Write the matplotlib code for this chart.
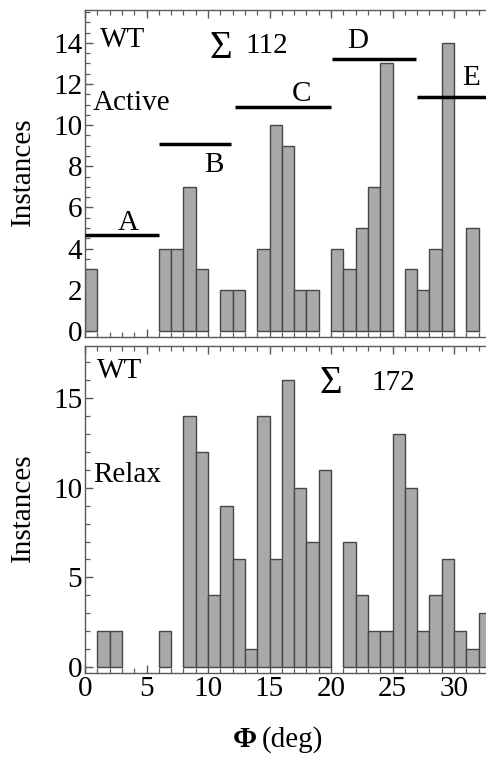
import matplotlib
matplotlib.use("Agg")
import matplotlib.pyplot as plt
from matplotlib.ticker import MultipleLocator

# ---------------- data ----------------
active_bin_left = [0, 6, 7, 8, 9, 11, 12, 14, 15, 16, 17, 18, 20, 21, 22, 23, 24, 26, 27, 28, 29, 31]
active_counts   = [3, 4, 4, 7, 3, 2, 2, 4, 10, 9, 2, 2, 4, 3, 5, 7, 13, 3, 2, 4, 14, 5]

relax_bin_left = [1, 2, 6, 8, 9, 10, 11, 12, 13, 14, 15, 16, 17, 18, 19,
                  21, 22, 23, 24, 25, 26, 27, 28, 29, 30, 31, 32]
relax_counts   = [2, 2, 2, 14, 12, 4, 9, 6, 1, 14, 6, 16, 10, 7, 11,
                  7, 4, 2, 2, 13, 10, 2, 4, 6, 2, 1, 3]

region_labels = ["A", "B", "C", "D", "E"]
region_start  = [0.0, 6.0, 12.2, 20.1, 27.0]
region_end    = [6.0, 11.9, 20.0, 26.9, 34.0]
region_level  = [4.67, 9.1, 10.87, 13.24, 11.37]
region_label_x = [3.5, 10.5, 17.6, 22.2, 31.35]
region_label_y = [4.9, 7.7, 11.16, 13.76, 11.97]

x_ticks = [0, 5, 10, 15, 20, 25, 30]
bin_width = 1.0

# ---------------- style ----------------
SERIF = ["Liberation Serif", "DejaVu Serif"]
plt.rcParams["font.family"] = SERIF
FS = 21
BAR_FC = "#a9a9a9"
BAR_EC = "#474747"
SPINE_C = "#5a5a5a"

W, H = 486, 758
fig = plt.figure(figsize=(W / 100, H / 100), dpi=100)

left = 85 / W
width = (W - 85) / W + 0.01
ax1 = fig.add_axes([left, (H - 337) / H, width, 327 / H])
ax2 = fig.add_axes([left, (H - 673) / H, width, 327 / H])

xmax = 32.6 + 0.01 * W / 12.33

for ax in (ax1, ax2):
    ax.set_xlim(0, xmax)
    ax.spines["right"].set_visible(False)
    for s in ("left", "bottom", "top"):
        ax.spines[s].set_color(SPINE_C)
        ax.spines[s].set_linewidth(1.0)
    ax.xaxis.set_major_locator(MultipleLocator(5))
    ax.xaxis.set_minor_locator(MultipleLocator(1))
    ax.tick_params(axis="both", which="both", direction="in", color=SPINE_C,
                   top=True, right=False, labelsize=FS)
    ax.tick_params(axis="both", which="major", length=6, width=1.0, pad=2)
    ax.tick_params(axis="both", which="minor", length=3.5, width=0.9)

# top panel: Active
ax1.bar(active_bin_left, active_counts, width=bin_width, align="edge",
        color=BAR_FC, edgecolor=BAR_EC, linewidth=1.0, zorder=2)
ax1.set_ylim(-0.3, 15.6)
ax1.yaxis.set_major_locator(MultipleLocator(2))
ax1.yaxis.set_minor_locator(MultipleLocator(0.5))
ax1.set_xticks(x_ticks)
ax1.tick_params(axis="x", labelbottom=False)

for lab, x0, x1, lv, lx, ly in zip(region_labels, region_start, region_end,
                                   region_level, region_label_x, region_label_y):
    ax1.plot([x0, x1], [lv, lv], color="black", linewidth=2.5,
             solid_capstyle="butt", zorder=3, clip_on=True)
    ax1.text(lx, ly, lab, fontsize=FS, ha="center", va="baseline", zorder=4)

ax1.text(1.2, 13.8, "WT", fontsize=FS, ha="left", va="baseline")
ax1.text(0.65, 10.75, "Active", fontsize=FS, ha="left", va="baseline")
ax1.text(10.1, 13.28, "Σ", fontsize=28, ha="left", va="baseline")
ax1.text(13.05, 13.5, "112", fontsize=FS, ha="left", va="baseline")

# bottom panel: Relax
ax2.bar(relax_bin_left, relax_counts, width=bin_width, align="edge",
        color=BAR_FC, edgecolor=BAR_EC, linewidth=1.0, zorder=2)
ax2.set_ylim(-0.33, 17.9)
ax2.yaxis.set_major_locator(MultipleLocator(5))
ax2.yaxis.set_minor_locator(MultipleLocator(1))
ax2.set_xticks(x_ticks)
ax2.set_xticklabels([str(t) for t in x_ticks])

ax2.text(0.97, 16.1, "WT", fontsize=FS, ha="left", va="baseline")
ax2.text(0.65, 10.3, "Relax", fontsize=FS, ha="left", va="baseline")
ax2.text(19.05, 15.26, "Σ", fontsize=28, ha="left", va="baseline")
ax2.text(23.3, 15.43, "172", fontsize=FS, ha="left", va="baseline")

# axis labels
fig.text(23 / W, 1 - 172 / H, "Instances", rotation=90, fontsize=FS,
         ha="center", va="center")
fig.text(23 / W, 1 - 508 / H, "Instances", rotation=90, fontsize=FS,
         ha="center", va="center")
fig.text(257 / W, 1 - 747 / H, "Φ", fontsize=FS, fontweight="bold",
         ha="right", va="baseline")
fig.text(262 / W, 1 - 747 / H, "(deg)", fontsize=FS, ha="left", va="baseline")

fig.savefig("out.png", dpi=100)
